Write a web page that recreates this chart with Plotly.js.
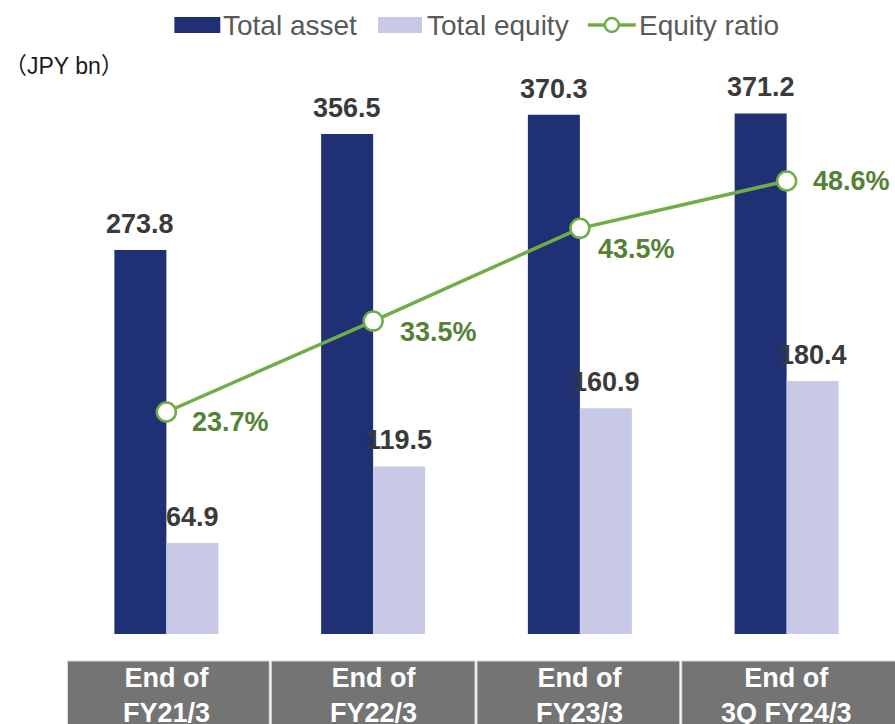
<!DOCTYPE html>
<html>
<head>
<meta charset="utf-8">
<script src="https://cdn.plot.ly/plotly-3.0.1.min.js"></script>
<style>html,body{margin:0;padding:0;background:#fff;}#chart{width:895px;height:724px;}</style>
</head>
<body>
<div id="chart"></div>
<script>
// ---- data ----
const categories = ["End of<br>FY21/3", "End of<br>FY22/3", "End of<br>FY23/3", "End of<br>3Q FY24/3"];
const totalAsset = [273.8, 356.5, 370.3, 371.2];
const totalEquity = [64.9, 119.5, 160.9, 180.4];
const equityRatio = [23.7, 33.5, 43.5, 48.6];
const seriesNames = ["Total asset", "Total equity", "Equity ratio"];
const unitLabel = "（JPY bn）";

// ---- style ----
const FONT = "Arial, 'Liberation Sans', sans-serif";
const C_ASSET = "#1F3174";
const C_EQUITY = "#C8C9E7";
const C_LINE = "#70AD47";
const C_RATIO_TXT = "#548235";
const C_LABEL = "#3A3A3A";
const ratioShift = [[24, -10], [25, -11], [16, -21], [24, 0]];
const boxPx = [[67, 269], [271, 475], [477, 680], [682, 896]];

const W = 895, H = 724;
const M = {l: 62.5, r: 4.5, t: 73, b: 90};
const pw = W - M.l - M.r, ph = H - M.t - M.b;
const px = v => (v - M.l) / pw;
const py = v => (H - M.b - v) / ph;

const idx = categories.map((_, i) => i);

const traces = [
  {type: "bar", name: seriesNames[0], x: idx, y: totalAsset, marker: {color: C_ASSET}, hoverinfo: "skip"},
  {type: "bar", name: seriesNames[1], x: idx, y: totalEquity, marker: {color: C_EQUITY}, hoverinfo: "skip"},
  {type: "scatter", mode: "lines+markers", name: seriesNames[2], x: idx, y: equityRatio, yaxis: "y2",
   line: {color: C_LINE, width: 3.5},
   marker: {symbol: "circle", size: 19, color: "#ffffff", line: {color: C_LINE, width: 2.5}},
   hoverinfo: "skip"}
];

const annotations = [];
const shapes = [];

idx.forEach(i => {
  annotations.push({x: i, y: totalAsset[i], xref: "x", yref: "y", text: totalAsset[i].toFixed(1),
    showarrow: false, xshift: -26, yshift: 26, yanchor: "middle",
    font: {family: FONT, size: 27, color: C_LABEL, weight: "bold"}});
  annotations.push({x: i, y: totalEquity[i], xref: "x", yref: "y", text: totalEquity[i].toFixed(1),
    showarrow: false, xshift: 26, yshift: 26, yanchor: "middle",
    font: {family: FONT, size: 27, color: C_LABEL, weight: "bold"}});
  annotations.push({x: i, y: equityRatio[i], xref: "x", yref: "y2", text: equityRatio[i].toFixed(1) + "%",
    showarrow: false, xanchor: "left", yanchor: "middle", xshift: ratioShift[i][0], yshift: ratioShift[i][1],
    font: {family: FONT, size: 27, color: C_RATIO_TXT, weight: "bold"}});
  shapes.push({type: "rect", xref: "paper", yref: "paper",
    x0: px(boxPx[i][0]), x1: px(boxPx[i][1]),
    y0: py(661), y1: py(730), fillcolor: "#747474", line: {color: "#D9D9D9", width: 1}, layer: "above"});
  annotations.push({x: i, y: py(695), xref: "x", yref: "paper", text: "<b>" + categories[i] + "</b>",
    showarrow: false, xanchor: "center", yanchor: "middle",
    font: {family: FONT, size: 27, color: "#ffffff"}});
});

// custom legend
shapes.push({type: "rect", xref: "paper", yref: "paper", x0: px(174), x1: px(220), y0: py(33), y1: py(17),
  fillcolor: C_ASSET, line: {width: 0}});
shapes.push({type: "rect", xref: "paper", yref: "paper", x0: px(378), x1: px(422), y0: py(33), y1: py(17),
  fillcolor: C_EQUITY, line: {width: 0}});
shapes.push({type: "line", xref: "paper", yref: "paper", x0: px(588), x1: px(636), y0: py(25), y1: py(25),
  line: {color: C_LINE, width: 3.5}});
shapes.push({type: "circle", xref: "paper", yref: "paper", xsizemode: "pixel", ysizemode: "pixel",
  xanchor: px(612), yanchor: py(25), x0: -7, x1: 7, y0: -7, y1: 7,
  fillcolor: "#ffffff", line: {color: C_LINE, width: 2.5}});
const legTxt = [[seriesNames[0], 221], [seriesNames[1], 425], [seriesNames[2], 637]];
legTxt.forEach(([t, x]) => annotations.push({x: px(x), y: py(25), xref: "paper", yref: "paper", text: t,
  showarrow: false, xanchor: "left", yanchor: "middle", font: {family: FONT, size: 28, color: "#595959"}}));

annotations.push({x: px(1), y: py(66), xref: "paper", yref: "paper", text: unitLabel, showarrow: false,
  xanchor: "left", yanchor: "middle",
  font: {family: "Arial, 'Liberation Sans', 'Noto Sans CJK JP', sans-serif", size: 23, color: "#1a1a1a"}});

const layout = {
  width: W, height: H,
  margin: M,
  paper_bgcolor: "#ffffff", plot_bgcolor: "#ffffff",
  showlegend: false,
  barmode: "group", bargap: 0.497, bargroupgap: 0,
  xaxis: {range: [-0.5, 3.5], showticklabels: false, showgrid: false, zeroline: false, showline: false, ticks: ""},
  yaxis: {range: [0, 400], showticklabels: false, showgrid: false, zeroline: false, showline: false, ticks: ""},
  yaxis2: {range: [-0.23, 60.24], overlaying: "y", side: "right", showticklabels: false, showgrid: false,
    zeroline: false, showline: false, ticks: ""},
  annotations: annotations,
  shapes: shapes
};

Plotly.newPlot("chart", traces, layout, {displayModeBar: false, staticPlot: true});
</script>
</body>
</html>
